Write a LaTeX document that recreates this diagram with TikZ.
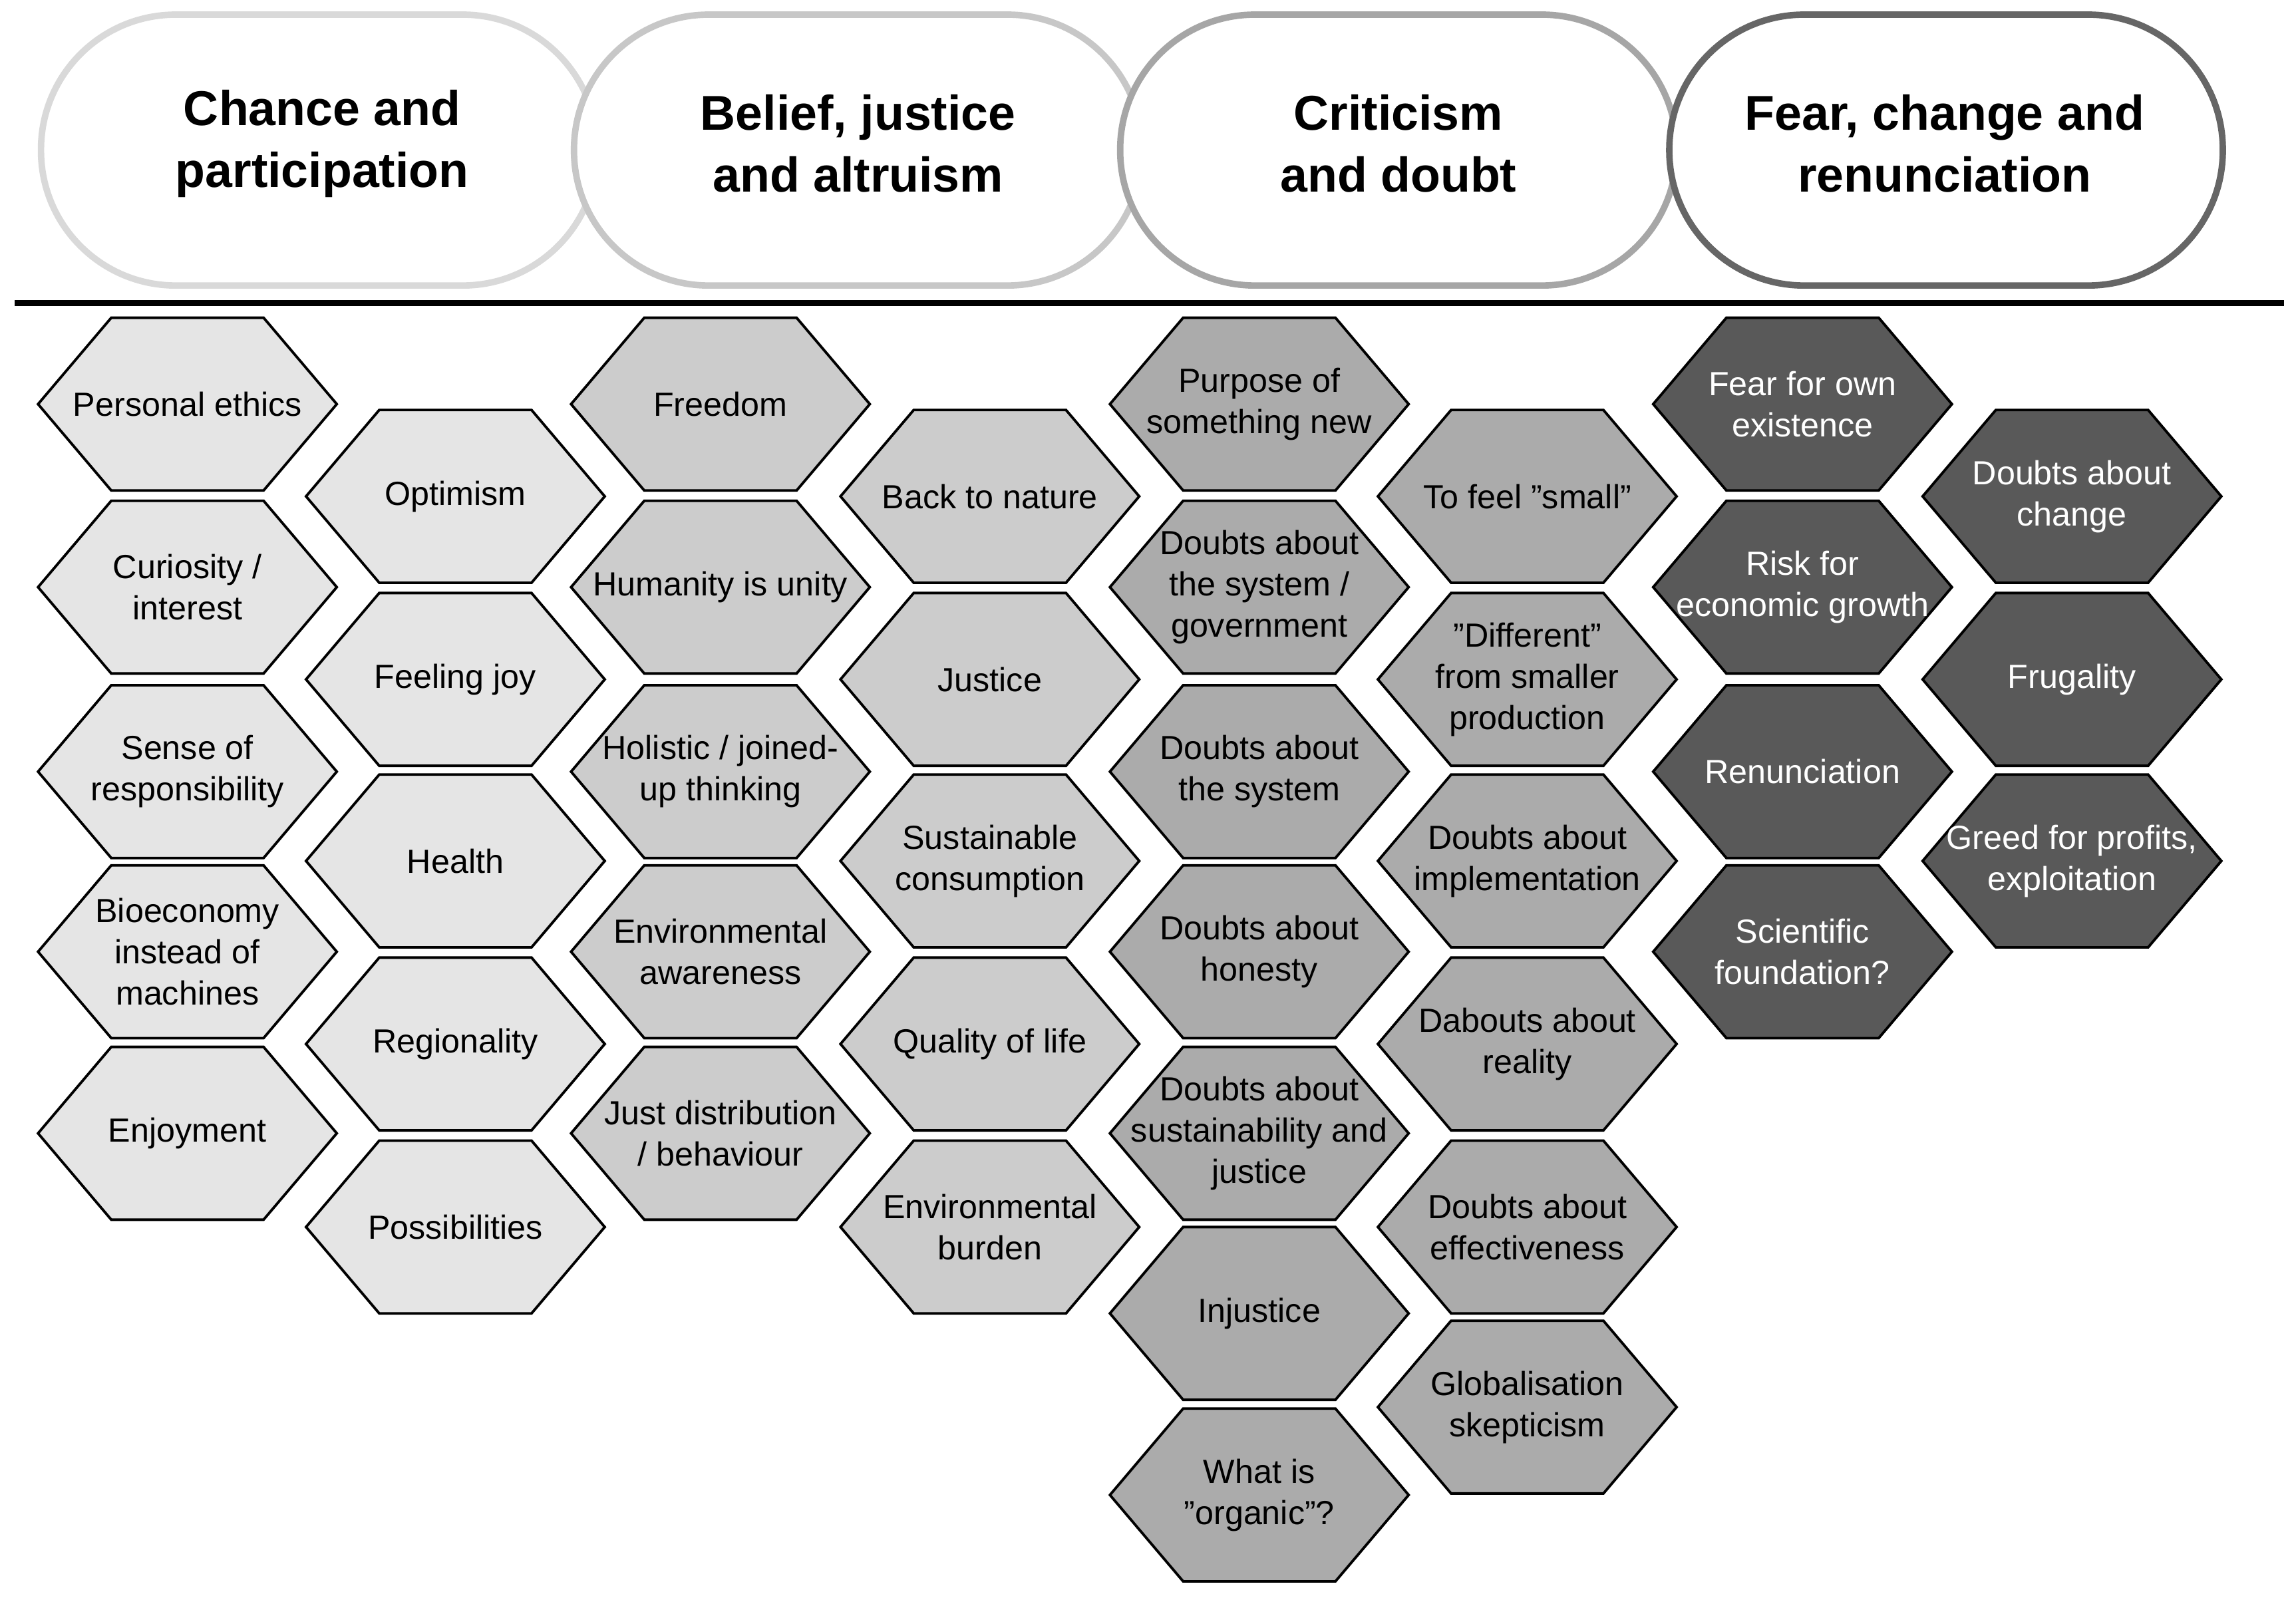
\documentclass[tikz,border=0pt]{standalone}
\usepackage{fontspec}
\setmainfont{Liberation Sans}

\tikzset{
    hexa/.style={draw=black, line width=1pt},
    hextext/.style={align=center, font=\fontsize{13}{16}\selectfont},
    head/.style={line width=2.5pt, fill=white, rounded corners=1.84cm},
    headtext/.style={align=center, font=\fontsize{19}{24}\selectfont\bfseries}
}
% one honeycomb cell: x, y, fill, text colour, label
\newcommand{\hexcell}[5]{%
    \draw[hexa,fill=#3] (#1,#2) +(-102,0) -- +(-52,-59) -- +(52,-59) -- +(102,0)
        -- +(52,59) -- +(-52,59) -- cycle;
    \node[hextext,text=#4] at (#1,#2) {#5};
}

\begin{document}
\begin{tikzpicture}[x=0.02cm,y=-0.02cm]
    \useasboundingbox (0,0) rectangle (1568,1094);

    % En-tetes
    \draw[head,draw=black!15] (28,10) rectangle (408,195);
    \draw[head,draw=black!22] (392,10) rectangle (780,195);
    \draw[head,draw=black!35] (765,10) rectangle (1145,195);
    \draw[head,draw=black!60] (1140,10) rectangle (1518,195);
    \node[headtext] at (220,98) {Chance and\\participation};
    \node[headtext] at (586,98) {Belief, justice\\and altruism};
    \node[headtext] at (955,98) {Criticism\\and doubt};
    \node[headtext] at (1328,98) {Fear, change and\\renunciation};

    \draw[line width=2.5pt] (10,207) -- (1560,207);

    % Colonnes
    \foreach \y/\txt in {276/{Personal ethics},401/{Curiosity /\\interest},527/{Sense of\\responsibility},650/{Bioeconomy\\instead of\\machines},774/{Enjoyment}}
        {\hexcell{128}{\y}{black!10}{black}{\txt}}
    \foreach \y/\txt in {339/{Optimism},464/{Feeling joy},588/{Health},713/{Regionality},838/{Possibilities}}
        {\hexcell{311}{\y}{black!10}{black}{\txt}}
    \foreach \y/\txt in {276/{Freedom},401/{Humanity is unity},527/{Holistic / joined-\\up thinking},650/{Environmental\\awareness},774/{Just distribution\\/ behaviour}}
        {\hexcell{492}{\y}{black!20}{black}{\txt}}
    \foreach \y/\txt in {339/{Back to nature},464/{Justice},588/{Sustainable\\consumption},713/{Quality of life},838/{Environmental\\burden}}
        {\hexcell{676}{\y}{black!20}{black}{\txt}}
    \foreach \y/\txt in {276/{Purpose of\\something new},401/{Doubts about\\the system /\\government},527/{Doubts about\\the system},650/{Doubts about\\honesty},774/{Doubts about\\sustainability and\\justice},897/{Injustice},1021/{What is\\"organic"?}}
        {\hexcell{860}{\y}{black!33}{black}{\txt}}
    \foreach \y/\txt in {339/{To feel "small"},464/{"Different"\\from smaller\\production},588/{Doubts about\\implementation},713/{Dabouts about\\reality},838/{Doubts about\\effectiveness},961/{Globalisation\\skepticism}}
        {\hexcell{1043}{\y}{black!33}{black}{\txt}}
    \foreach \y/\txt in {276/{Fear for own\\existence},401/{Risk for\\economic growth},527/{Renunciation},650/{Scientific\\foundation?}}
        {\hexcell{1231}{\y}{black!65}{white}{\txt}}
    \foreach \y/\txt in {339/{Doubts about\\change},464/{Frugality},588/{Greed for profits,\\exploitation}}
        {\hexcell{1415}{\y}{black!65}{white}{\txt}}
\end{tikzpicture}
\end{document}
